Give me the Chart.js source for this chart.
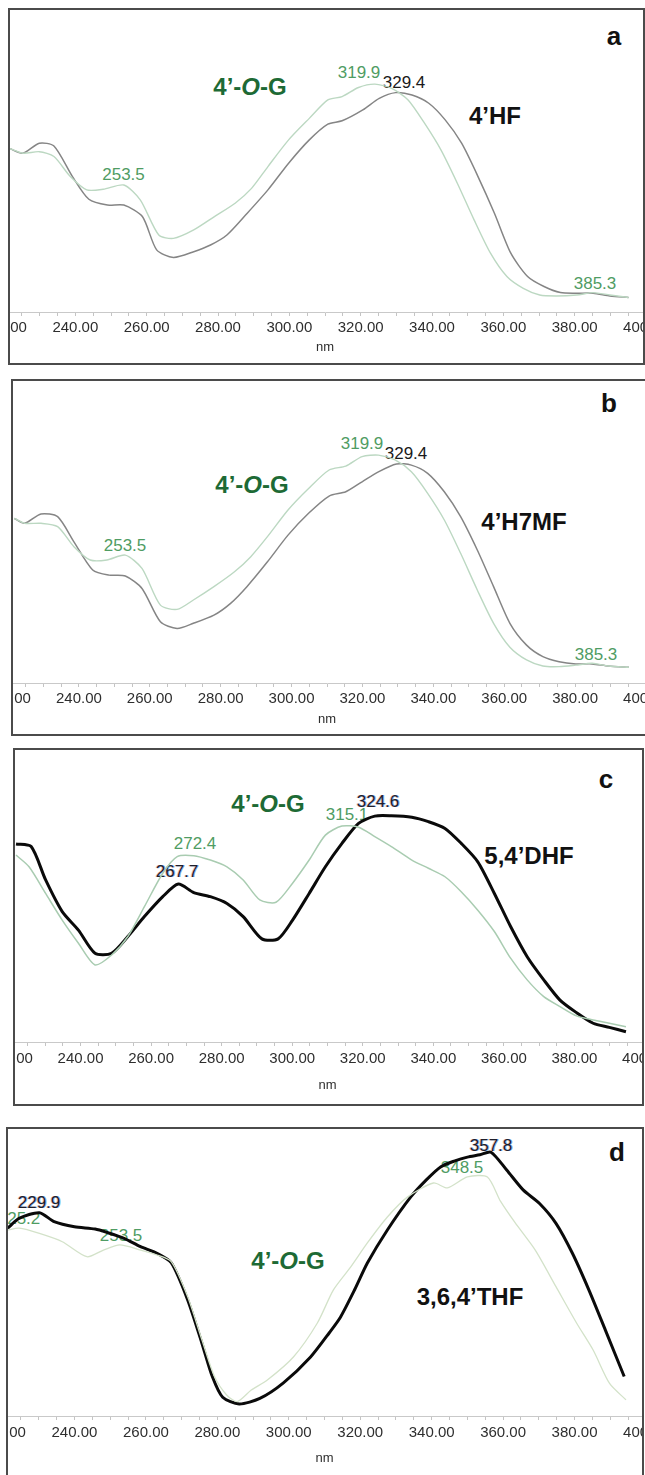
<!DOCTYPE html>
<html>
<head>
<meta charset="utf-8">
<script src="https://cdn.jsdelivr.net/npm/chart.js@4.4.1/dist/chart.umd.min.js"></script>
<style>
  html, body { margin: 0; padding: 0; background: #fff; }
  body { width: 645px; height: 1475px; position: relative; overflow: hidden; font-family: "Liberation Sans", Arial, sans-serif; }
  .panel { position: absolute; box-sizing: border-box; border: 2px solid #4b4b4b; overflow: hidden; background: #fff; }
  .panel canvas { position: absolute; z-index: 2; }
  .note { position: absolute; transform: translate(-50%, -50%); white-space: nowrap; line-height: 1; z-index: 1; }
  .g { color: #4f9c63; font-size: 17px; }
  .k { color: #1a1a1a; font-size: 17px; }
  .kb { color: #1f1f2a; font-size: 17px; text-shadow: 1px 0 rgba(90,150,230,0.75), -1px 0 rgba(200,90,90,0.35); }
  .og { color: #1d6a35; font-size: 24px; font-weight: bold; }
  .cmp { color: #111; font-size: 24px; font-weight: bold; }
  .let { color: #111; font-size: 26px; font-weight: bold; }
</style>
</head>
<body>
<script>
// x axis: wavelength (nm), labelled every 20 nm, small ticks every 5 nm
const xMin = 220;
const xMax = 400;
const tickStep = 5;
const majorTicks = [220, 240, 260, 280, 300, 320, 340, 360, 380, 400];

// panel a : 4'HF (grey) vs 4'-O-G (green)
const nmA_HF = [221.5,225.3,229.9,234.0,239.2,243.8,249.0,253.6,258.8,262.8,267.5,273.2,277.9,282.5,288.2,294.0,299.8,305.6,310.8,314.8,320.6,325.2,329.8,334.4,339.1,343.7,348.3,352.9,357.5,362.1,366.8,371.4,376.0,380.6,385.2,389.9,395.1];
const absA_HF = [0.540,0.524,0.557,0.548,0.447,0.372,0.353,0.353,0.315,0.205,0.180,0.199,0.221,0.254,0.326,0.403,0.491,0.568,0.620,0.631,0.667,0.705,0.724,0.716,0.689,0.634,0.557,0.447,0.326,0.194,0.117,0.084,0.064,0.062,0.062,0.053,0.048];
const nmA_OG = [221.5,225.3,229.9,234.0,238.6,243.2,247.8,253.6,258.2,263.4,267.5,273.2,279.0,284.8,289.4,294.0,299.8,305.6,310.8,314.8,319.4,324.0,328.7,333.3,337.9,342.5,347.1,351.8,356.4,361.0,365.6,370.2,374.8,380.6,385.2,389.9,395.1];
const absA_OG = [0.540,0.524,0.529,0.513,0.447,0.403,0.405,0.419,0.370,0.254,0.243,0.271,0.315,0.359,0.408,0.480,0.568,0.639,0.700,0.711,0.741,0.752,0.738,0.700,0.623,0.535,0.425,0.304,0.194,0.117,0.078,0.056,0.053,0.056,0.064,0.056,0.048];

// panel b : 4'H7MF (grey) vs 4'-O-G (green)
const nmB_H7MF = [221.8,224.7,229.3,234.0,238.6,243.9,248.5,253.1,257.8,263.0,267.7,272.3,278.1,282.8,287.4,293.2,299.0,304.8,310.6,315.3,319.9,324.5,329.6,333.8,338.4,343.1,347.7,352.4,357.0,361.6,366.3,370.9,375.5,380.2,384.8,389.4,395.2];
const absB_H7MF = [0.543,0.527,0.558,0.549,0.466,0.373,0.356,0.353,0.312,0.202,0.180,0.197,0.224,0.263,0.318,0.400,0.488,0.560,0.617,0.631,0.664,0.697,0.723,0.719,0.692,0.631,0.549,0.439,0.318,0.197,0.125,0.087,0.070,0.063,0.063,0.056,0.052];
const nmB_OG = [221.8,224.7,229.3,234.0,238.6,243.2,247.9,253.1,257.8,263.0,267.7,272.3,278.1,283.9,288.5,293.2,299.0,304.8,310.6,315.3,319.9,324.5,329.2,333.8,338.4,343.1,347.7,352.4,357.0,361.6,366.3,370.9,375.5,380.2,384.8,389.4,395.2];
const absB_OG = [0.543,0.527,0.527,0.516,0.450,0.406,0.406,0.422,0.378,0.257,0.243,0.274,0.318,0.367,0.417,0.483,0.571,0.642,0.703,0.716,0.747,0.752,0.736,0.697,0.626,0.538,0.428,0.307,0.197,0.118,0.076,0.056,0.054,0.059,0.065,0.056,0.052];

// panel c : 5,4'DHF (black) vs 4'-O-G (green)
const nmC_DHF = [221.7,226.0,230.1,234.8,239.4,244.1,248.8,253.4,258.1,263.3,267.7,272.1,276.8,281.5,286.1,291.4,296.0,300.1,304.8,309.4,314.1,318.8,323.4,328.1,333.9,338.6,343.3,347.9,352.6,357.3,361.9,366.6,371.3,375.9,380.6,385.3,389.9,394.6];
const absC_DHF = [0.676,0.667,0.553,0.445,0.382,0.303,0.303,0.360,0.428,0.496,0.539,0.510,0.496,0.473,0.428,0.352,0.352,0.416,0.507,0.598,0.678,0.746,0.771,0.772,0.767,0.752,0.729,0.678,0.615,0.507,0.394,0.291,0.212,0.143,0.100,0.064,0.050,0.035];
const nmC_OG = [221.7,225.4,230.1,234.8,239.4,244.1,248.8,253.4,258.1,263.3,267.4,272.1,276.8,281.5,286.1,290.8,295.4,300.1,304.8,309.4,314.1,318.8,323.4,328.1,333.9,338.6,343.3,347.9,352.6,357.3,361.9,366.6,371.3,375.9,380.6,385.3,389.9,394.6];
const absC_OG = [0.638,0.598,0.507,0.416,0.337,0.263,0.297,0.360,0.462,0.576,0.633,0.636,0.621,0.598,0.553,0.485,0.477,0.542,0.621,0.706,0.737,0.733,0.701,0.667,0.621,0.593,0.564,0.513,0.450,0.377,0.286,0.212,0.155,0.121,0.089,0.075,0.064,0.052];

// panel d : 3,6,4'THF (black) vs 4'-O-G (green)
const nmD_THF = [221.3,224.5,230.2,234.3,240.0,245.8,249.2,253.9,258.5,263.1,267.1,271.7,275.7,278.6,281.5,286.1,291.9,298.5,306.1,311.4,314.5,318.5,322.0,327.6,334.1,338.5,342.5,346.5,350.0,353.5,356.6,361.0,365.6,370.2,374.8,379.4,384.0,388.6,393.9];
const absD_THF = [0.652,0.686,0.706,0.675,0.657,0.649,0.637,0.617,0.588,0.565,0.532,0.403,0.252,0.137,0.065,0.042,0.061,0.115,0.205,0.290,0.344,0.440,0.531,0.646,0.760,0.820,0.865,0.886,0.899,0.907,0.916,0.854,0.785,0.738,0.669,0.565,0.438,0.299,0.137];
const nmD_OG = [221.3,224.5,230.2,236.6,243.5,248.1,252.7,258.5,263.1,267.1,271.7,275.7,279.2,282.6,285.6,289.5,294.0,301.3,308.0,312.5,317.3,322.0,327.6,333.2,340.5,344.4,350.0,355.6,359.3,363.3,369.0,374.8,380.6,385.2,389.8,394.4];
const absD_OG = [0.646,0.652,0.634,0.605,0.553,0.576,0.594,0.576,0.559,0.536,0.414,0.264,0.137,0.073,0.050,0.090,0.125,0.205,0.323,0.438,0.517,0.601,0.691,0.760,0.809,0.792,0.830,0.830,0.745,0.672,0.576,0.449,0.322,0.229,0.113,0.056];

function pts(xs, ys) {
  return xs.map((x, i) => ({ x: x, y: ys[i] }));
}

// page layout of the four boxes (box = left, top, right, bottom of the frame line)
const panels = [
  {
    box: [9, 9, 644, 364], x220: 3.7, x400: 645.3, base: 312, nmY: 347, pad: 3,
    lines: [
      { d: pts(nmA_OG, absA_OG), c: "#bcd8c2", w: 1.4 },
      { d: pts(nmA_HF, absA_HF), c: "#858585", w: 1.5 }
    ],
    notes: [
      ["a", 614, 36, "let"], ["4’-<i>O</i>-G", 250, 87, "og"], ["319.9", 359, 72, "g"],
      ["329.4", 404, 81.5, "k"], ["4’HF", 495, 116, "cmp"], ["253.5", 123.5, 174, "g"], ["385.3", 595, 283, "g"]
    ]
  },
  {
    box: [12, 380, 650, 735], x220: 8.1, x400: 645.9, base: 683, nmY: 719, pad: 3,
    lines: [
      { d: pts(nmB_OG, absB_OG), c: "#bcd8c2", w: 1.4 },
      { d: pts(nmB_H7MF, absB_H7MF), c: "#858585", w: 1.5 }
    ],
    notes: [
      ["b", 609, 403, "let"], ["4’-<i>O</i>-G", 252, 485, "og"], ["319.9", 362, 443, "g"],
      ["329.4", 406, 453, "k"], ["4’H7MF", 524, 522, "cmp"], ["253.5", 125, 545, "g"], ["385.3", 596, 654, "g"]
    ]
  },
  {
    box: [14, 749, 643, 1105], x220: 9.7, x400: 644.5, base: 1042, nmY: 1085, pad: 4,
    lines: [
      { d: pts(nmC_OG, absC_OG), c: "#a9ccb1", w: 1.5 },
      { d: pts(nmC_DHF, absC_DHF), c: "#0a0a0a", w: 3 }
    ],
    notes: [
      ["c", 606, 779, "let"], ["4’-<i>O</i>-G", 268, 804, "og"], ["272.4", 195, 843, "g"],
      ["267.7", 177, 871, "kb"], ["315.1", 347, 814, "g"], ["324.6", 378, 801, "kb"], ["5,4’DHF", 529, 856, "cmp"]
    ]
  },
  {
    box: [7, 1128, 643, 1495], x220: 2.6, x400: 645.4, base: 1416, nmY: 1458, pad: 4,
    lines: [
      { d: pts(nmD_OG, absD_OG), c: "#d3e2c9", w: 1.3 },
      { d: pts(nmD_THF, absD_THF), c: "#0a0a0a", w: 3 }
    ],
    notes: [
      ["d", 617, 1152, "let"], ["357.8", 491, 1145, "kb"], ["348.5", 462, 1167, "g"],
      ["229.9", 39, 1202, "kb"], ["225.2", 19, 1218, "g"], ["253.5", 121, 1235, "g"],
      ["4’-<i>O</i>-G", 288, 1261, "og"], ["3,6,4’THF", 470, 1297, "cmp"]
    ]
  }
];

Chart.defaults.font.family = '"Liberation Sans", Arial, sans-serif';

panels.forEach((p) => {
  const [l, t, r, b] = p.box;
  const div = document.createElement("div");
  div.className = "panel";
  div.style.left = (l - 1) + "px";
  div.style.top = (t - 1) + "px";
  div.style.width = (r - l + 2) + "px";
  div.style.height = (b - t + 2) + "px";
  document.body.appendChild(div);

  const innerL = l + 1, innerT = t + 1;

  p.notes.forEach(([txt, x, y, cls]) => {
    const s = document.createElement("div");
    s.className = "note " + cls;
    s.innerHTML = txt;
    s.style.left = (x - innerL) + "px";
    s.style.top = (y - innerT) + "px";
    div.appendChild(s);
  });

  // title "nm": font 13px, lineHeight 1.2, bottom padding 2
  const canvasH = Math.round(p.nmY - t + 2 + 7.8);
  const axisH = canvasH - (p.base - t);
  const canvasW = Math.round(p.x400 - p.x220);

  const canvas = document.createElement("canvas");
  canvas.width = canvasW;
  canvas.height = canvasH;
  canvas.style.left = (p.x220 - innerL) + "px";
  canvas.style.top = (t - innerT) + "px";
  canvas.style.width = canvasW + "px";
  canvas.style.height = canvasH + "px";
  div.appendChild(canvas);

  new Chart(canvas.getContext("2d"), {
    type: "line",
    data: {
      datasets: p.lines.map((ln) => ({
        data: ln.d,
        borderColor: ln.c,
        borderWidth: ln.w,
        pointRadius: 0,
        tension: 0.25,
        fill: false
      }))
    },
    options: {
      responsive: false,
      maintainAspectRatio: false,
      animation: false,
      layout: { padding: 0 },
      plugins: { legend: { display: false }, tooltip: { enabled: false } },
      scales: {
        x: {
          type: "linear",
          min: xMin,
          max: xMax,
          grid: { drawOnChartArea: false, drawTicks: true, tickLength: 4, color: "#c4c4c4" },
          border: { display: true, color: "#c9c9c9", width: 1 },
          ticks: {
            stepSize: tickStep,
            autoSkip: false,
            maxRotation: 0,
            minRotation: 0,
            padding: p.pad,
            color: "#2e2e2e",
            font: { size: 15 },
            callback: (v) => majorTicks.includes(Math.round(v)) && Math.abs(v - Math.round(v)) < 1e-6 ? Number(v).toFixed(2) : ""
          },
          title: { display: true, text: "nm", color: "#2e2e2e", font: { size: 13 }, padding: { top: 0, bottom: 2 } },
          afterFit: (s) => { s.paddingLeft = 0; s.paddingRight = 0; s.height = axisH; }
        },
        y: { display: false, min: 0, max: 1 }
      }
    }
  });
});
</script>
</body>
</html>
